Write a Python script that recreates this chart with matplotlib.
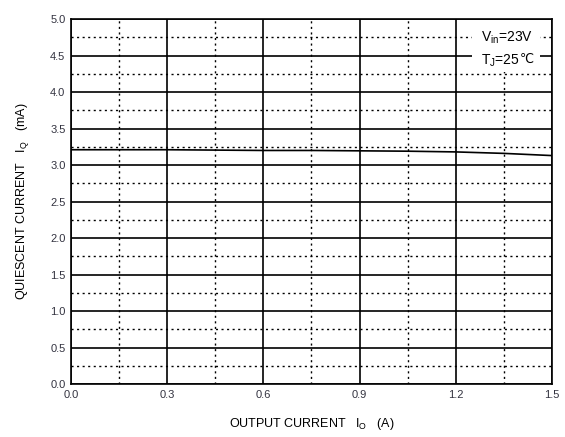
import matplotlib.pyplot as plt
from matplotlib.ticker import MultipleLocator
from matplotlib.patches import Rectangle

plt.rcParams['font.family'] = ['Liberation Sans', 'DejaVu Sans']

io = [0.0, 0.15, 0.3, 0.45, 0.6, 0.75, 0.9, 1.05, 1.2, 1.35, 1.5]
iq = [3.21, 3.21, 3.21, 3.205, 3.20, 3.20, 3.195, 3.19, 3.18, 3.16, 3.13]

fig = plt.figure(figsize=(5.65, 4.37), dpi=100)
ax = fig.add_axes([0.1257, 0.1213, 0.851, 0.835])

ax.plot(io, iq, color="black", linewidth=1.2)

ax.set_xlim(0, 1.5)
ax.set_ylim(0, 5.0)
ax.xaxis.set_major_locator(MultipleLocator(0.3))
ax.xaxis.set_minor_locator(MultipleLocator(0.15))
ax.yaxis.set_major_locator(MultipleLocator(0.5))
ax.yaxis.set_minor_locator(MultipleLocator(0.25))
ax.set_xticklabels(["%.1f" % v for v in ax.get_xticks()])
ax.set_yticklabels(["%.1f" % v for v in ax.get_yticks()])
ax.grid(which="major", color="black", linewidth=1.2, linestyle="-")
ax.grid(which="minor", color="black", linewidth=1.0, linestyle=(0, (1.5, 2.5)))
ax.tick_params(which="both", length=0, labelsize=8, colors="#333340", pad=4)
for s in ax.spines.values():
    s.set_linewidth(1.2)
    s.set_zorder(5)

ax.set_xlabel("OUTPUT CURRENT   I$_\\mathregular{O}$   (A)", fontsize=9, labelpad=12)
ax.set_ylabel("QUIESCENT CURRENT   I$_\\mathregular{Q}$   (mA)", fontsize=9, labelpad=14)

# condition box
ax.add_patch(Rectangle((0.834, 0.855), 0.141, 0.14, transform=ax.transAxes,
                       facecolor="white", edgecolor="none", zorder=3))
ax.text(0.852, 0.937, "V$_\\mathregular{in}$=23V", transform=ax.transAxes,
        ha="left", va="baseline", fontsize=10, zorder=4)
t2 = ax.text(0.852, 0.874, "T$_\\mathregular{J}$=25", transform=ax.transAxes,
             ha="left", va="baseline", fontsize=10, zorder=4)
ax.annotate("℃", xy=(1, 0), xycoords=t2, xytext=(0.5, 2.3), textcoords="offset points",
            ha="left", va="bottom", fontsize=9, family="DejaVu Sans", zorder=4)

fig.savefig("out.png", dpi=100)
